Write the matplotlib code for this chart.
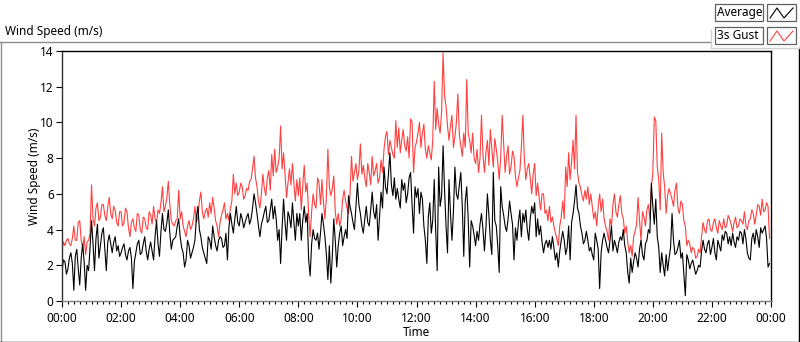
import matplotlib
matplotlib.use("agg")
import matplotlib.pyplot as plt
from matplotlib.lines import Line2D
from matplotlib.patches import Rectangle
from matplotlib.ticker import MultipleLocator
import numpy as np

plt.rcParams['font.family'] = ['Noto Sans', 'DejaVu Sans']

# readings every 3 minutes, 00:00 -> 24:00
step_min = 3

gust = [
    # 00-04
    2.9, 3.3, 3.1, 3.4, 3.5, 3.2, 3.1, 3.5, 4.2, 3.4, 3.4, 4.4, 4.5, 3.4, 3.0, 3.6, 2.6, 3.3, 3.4, 3.8,
    6.5, 4.6, 4.2, 5.2, 5.5, 4.5, 4.7, 5.4, 5.4, 4.8, 4.5, 5.3, 5.8, 4.9, 4.6, 5.3, 5.1, 4.4, 4.2, 5.0,
    5.0, 4.2, 4.4, 5.2, 5.0, 4.1, 3.6, 4.4, 4.6, 4.1, 3.9, 4.9, 4.8, 4.0, 3.8, 4.7, 4.6, 4.1, 4.0, 5.0,
    4.8, 4.3, 5.3, 4.6, 4.4, 5.1, 4.9, 5.5, 6.4, 5.0, 5.3, 5.8, 6.7, 5.4, 4.5, 4.3, 4.2, 4.5, 4.6, 6.2,
    # 04-08
    4.6, 5.0, 4.2, 3.9, 3.6, 4.2, 4.5, 4.0, 4.2, 4.6, 5.3, 4.4, 4.7, 5.6, 6.1, 5.0, 4.6, 5.0, 5.2, 4.7,
    5.5, 4.9, 5.8, 5.2, 4.5, 4.2, 3.6, 4.4, 4.8, 5.1, 5.5, 4.6, 4.9, 4.5, 5.2, 5.6, 7.1, 6.0, 6.6, 5.9,
    6.1, 6.6, 6.4, 5.7, 5.9, 6.3, 6.2, 6.7, 6.8, 7.4, 8.1, 6.9, 6.4, 5.6, 5.2, 6.0, 7.1, 6.3, 5.9, 6.9,
    7.3, 6.2, 8.2, 7.0, 8.5, 7.2, 7.5, 8.0, 9.8, 7.4, 8.3, 7.1, 5.8, 6.6, 7.4, 6.5, 7.7, 6.6, 5.6, 6.8,
    # 08-12
    5.9, 6.9, 5.1, 6.5, 7.6, 6.1, 6.6, 4.8, 3.6, 5.0, 6.0, 5.4, 5.2, 6.9, 6.6, 5.4, 6.8, 5.5, 4.6, 5.8,
    8.5, 6.4, 5.9, 6.3, 7.0, 5.0, 4.3, 4.9, 4.2, 4.6, 5.7, 6.2, 5.6, 5.2, 4.9, 6.0, 8.1, 6.7, 7.2, 7.7,
    6.8, 7.3, 8.8, 7.1, 7.6, 6.9, 6.4, 7.7, 7.2, 6.5, 8.1, 7.0, 7.3, 7.7, 6.6, 6.9, 7.9, 7.2, 8.5, 9.2,
    9.5, 8.2, 9.0, 8.6, 8.2, 8.0, 10.1, 8.6, 9.7, 8.3, 9.0, 9.6, 8.7, 8.4, 9.2, 8.0, 10.2, 10.0, 7.2, 8.6,
    # 12-16
    8.9, 9.4, 10.0, 8.6, 9.4, 9.9, 8.5, 8.0, 8.7, 8.3, 7.9, 9.0, 12.3, 9.6, 10.8, 9.9, 9.4, 10.6, 13.9, 11.5,
    10.9, 9.8, 9.0, 9.8, 10.4, 8.6, 9.2, 10.0, 11.6, 9.3, 8.7, 8.1, 9.4, 8.6, 12.4, 9.4, 9.0, 8.3, 9.4, 8.0,
    7.7, 8.5, 7.2, 8.0, 10.4, 8.2, 7.2, 8.3, 9.0, 7.6, 9.6, 8.5, 7.5, 9.1, 8.5, 7.8, 6.8, 8.0, 10.4, 8.8,
    7.2, 8.1, 8.7, 7.1, 7.5, 8.4, 8.1, 7.0, 6.4, 6.9, 7.3, 8.6, 10.4, 8.0, 6.8, 7.4, 7.7, 6.9, 6.0, 7.1,
    # 16-20
    7.7, 5.9, 6.6, 5.8, 5.1, 6.0, 6.0, 4.9, 5.1, 4.5, 5.3, 4.4, 4.7, 4.2, 3.8, 3.5, 3.1, 4.2, 4.7, 5.6,
    4.6, 7.5, 6.4, 8.3, 6.8, 7.8, 9.0, 7.4, 10.4, 7.2, 6.6, 6.4, 5.9, 5.6, 6.2, 5.7, 6.4, 5.4, 6.0, 5.3,
    4.6, 5.0, 4.2, 5.3, 6.0, 5.0, 5.7, 4.6, 4.2, 3.9, 3.4, 4.6, 4.2, 5.4, 6.0, 5.0, 4.7, 5.4, 5.9, 4.9,
    4.6, 3.8, 4.2, 3.3, 2.7, 3.1, 2.5, 3.6, 3.9, 4.3, 5.8, 4.5, 3.4, 5.0, 4.7, 4.2, 5.1, 5.4, 4.6, 6.4,
    # 20-24
    7.2, 10.3, 10.1, 7.5, 6.8, 5.1, 9.4, 7.2, 6.4, 4.9, 5.9, 6.3, 6.0, 5.7, 5.3, 6.2, 6.6, 5.2, 4.9, 5.6,
    5.4, 4.5, 4.2, 3.1, 3.4, 3.2, 2.7, 3.0, 2.9, 2.4, 2.5, 2.9, 2.7, 3.6, 4.4, 4.0, 3.8, 4.5, 4.6, 4.0,
    3.9, 4.4, 4.6, 4.1, 3.8, 4.5, 4.2, 4.0, 4.6, 4.1, 4.2, 4.8, 4.6, 4.3, 3.9, 4.4, 4.7, 4.1, 4.2, 4.6,
    4.5, 4.3, 5.0, 4.2, 4.0, 4.5, 4.6, 5.1, 4.9, 4.3, 4.8, 5.4, 5.3, 4.8, 5.7, 5.0, 5.1, 5.5, 5.3, 3.5,
]

average = [
    # 00-04
    1.7, 2.3, 2.2, 1.5, 1.8, 2.4, 2.7, 2.1, 0.6, 2.5, 2.9, 1.8, 0.9, 2.4, 3.2, 2.2, 0.6, 2.0, 1.7, 3.0,
    4.5, 3.2, 1.7, 3.5, 4.3, 2.4, 3.1, 3.8, 4.1, 2.9, 1.7, 3.3, 3.7, 3.2, 2.7, 3.3, 3.6, 2.8, 3.1, 2.5,
    2.7, 3.0, 3.2, 2.6, 2.3, 2.8, 3.0, 2.4, 0.7, 2.2, 2.7, 3.2, 3.4, 2.6, 2.7, 3.2, 3.6, 2.8, 2.3, 2.9,
    3.3, 2.8, 2.3, 3.6, 4.5, 3.2, 2.5, 3.9, 4.9, 4.0, 3.9, 4.4, 5.1, 3.8, 2.9, 3.4, 3.5, 3.6, 4.2, 4.6,
    # 04-08
    3.6, 3.0, 2.7, 1.9, 2.3, 3.4, 3.1, 2.4, 2.7, 3.0, 3.4, 4.7, 5.3, 4.0, 3.6, 3.0, 2.7, 2.4, 2.1, 3.6,
    3.4, 2.9, 4.2, 3.6, 3.1, 2.8, 3.4, 3.6, 3.5, 3.0, 3.1, 3.8, 2.3, 4.1, 4.9, 4.3, 3.8, 4.6, 5.3, 4.4,
    4.2, 4.9, 4.6, 4.1, 4.4, 4.7, 4.9, 4.3, 4.6, 5.2, 6.0, 5.5, 4.9, 4.2, 3.6, 4.3, 4.6, 5.0, 5.3, 4.4,
    4.5, 5.1, 5.7, 4.6, 5.3, 4.6, 3.4, 4.0, 2.1, 4.1, 5.7, 4.4, 3.4, 5.0, 4.7, 4.1, 5.5, 4.4, 3.4, 4.9,
    # 08-12
    4.2, 4.9, 3.4, 4.5, 5.3, 4.4, 4.9, 2.3, 1.4, 3.2, 4.0, 3.5, 3.4, 3.8, 2.9, 3.8, 4.9, 4.3, 3.6, 2.6,
    1.2, 3.1, 1.0, 2.5, 4.6, 3.4, 1.9, 3.1, 3.8, 4.2, 3.1, 3.6, 4.0, 3.5, 5.9, 5.3, 4.9, 4.4, 4.0, 5.3,
    6.6, 5.4, 4.9, 4.2, 3.8, 4.6, 5.3, 4.4, 4.2, 5.1, 6.1, 5.0, 4.6, 5.4, 3.4, 4.8, 6.1, 5.2, 7.5, 6.4,
    6.0, 7.1, 8.3, 6.5, 5.9, 6.9, 5.7, 6.3, 5.7, 5.2, 6.8, 6.2, 6.6, 5.5, 6.0, 6.9, 7.2, 5.4, 3.8, 6.4,
    # 12-16
    5.8, 6.3, 4.9, 6.1, 5.7, 4.2, 3.4, 2.1, 4.7, 5.5, 3.8, 4.5, 6.8, 3.9, 1.7, 7.5, 5.3, 5.9, 8.7, 6.2,
    4.2, 2.7, 6.8, 4.9, 3.4, 5.0, 7.5, 6.0, 5.7, 6.5, 7.2, 5.3, 2.5, 5.6, 6.4, 4.6, 1.9, 4.5, 4.2, 3.7,
    3.1, 3.9, 3.4, 4.3, 4.9, 4.0, 2.8, 4.1, 6.0, 4.8, 3.4, 2.6, 7.2, 4.5, 4.2, 3.1, 1.6, 6.4, 5.3, 4.8,
    4.2, 3.9, 4.6, 5.6, 4.9, 4.3, 2.3, 4.1, 3.4, 4.4, 5.1, 3.6, 4.9, 4.4, 5.1, 4.0, 3.4, 4.6, 5.3, 4.9,
    # 16-20
    5.5, 3.6, 4.6, 3.7, 4.2, 3.3, 2.7, 3.2, 3.4, 3.0, 3.4, 2.9, 3.6, 3.0, 2.3, 2.7, 1.9, 2.8, 3.4, 3.9,
    3.4, 2.6, 3.0, 4.2, 2.3, 4.4, 4.9, 5.6, 6.5, 5.2, 4.9, 4.2, 3.8, 3.2, 3.4, 3.9, 3.4, 2.8, 3.0, 2.6,
    2.3, 3.8, 3.4, 2.9, 0.7, 2.7, 3.4, 3.8, 3.4, 3.0, 2.7, 3.4, 4.2, 2.8, 3.4, 3.1, 2.7, 3.3, 3.6, 3.4,
    4.0, 3.1, 2.7, 1.6, 1.0, 2.4, 1.6, 2.2, 2.7, 2.4, 1.9, 2.9, 3.4, 2.6, 2.3, 3.2, 3.4, 4.0, 3.8, 6.6,
    # 20-24
    5.3, 4.3, 5.7, 3.6, 3.0, 1.6, 2.7, 2.0, 1.4, 2.6, 1.7, 2.4, 3.0, 4.9, 3.4, 2.6, 2.7, 3.0, 3.4, 2.4,
    2.7, 1.5, 0.3, 2.6, 2.3, 1.8, 2.1, 2.3, 1.9, 1.5, 1.7, 2.0, 1.9, 2.8, 3.4, 2.9, 2.7, 3.2, 3.4, 2.6,
    3.0, 3.5, 2.7, 2.3, 3.4, 3.1, 2.8, 3.7, 3.4, 3.9, 3.8, 3.2, 3.6, 3.1, 3.8, 3.3, 3.0, 3.6, 3.4, 3.9,
    3.8, 3.2, 4.0, 3.5, 2.7, 2.4, 2.3, 3.5, 3.8, 3.2, 4.0, 3.6, 3.0, 4.1, 3.8, 4.0, 4.2, 3.5, 1.9, 2.1,
]

hour_ticks = list(range(0, 25, 2))
hour_labels = ["%02d:00" % (h % 24) for h in hour_ticks]

t_gust = np.arange(len(gust)) * step_min / 60.0
t_avg = np.arange(len(average)) * step_min / 60.0

W, H = 800, 342
fig = plt.figure(figsize=(W / 100, H / 100), dpi=100)
fig.patch.set_facecolor("white")

ax = fig.add_axes([62 / W, 1 - 301 / H, (771 - 62) / W, (301 - 51) / H])
ax.plot(t_gust, gust, color="#ff4040", lw=0.8)
ax.plot(t_avg, average, color="black", lw=0.8)

ax.set_xlim(0, 24)
ax.set_ylim(0, 14)
ax.set_xticks(hour_ticks)
ax.set_xticklabels(hour_labels)
ax.xaxis.set_minor_locator(MultipleLocator(0.2))
ax.yaxis.set_major_locator(MultipleLocator(2))
ax.tick_params(axis="both", which="major", labelsize=8.5, length=4, width=0.8, direction="out", pad=2)
ax.tick_params(axis="x", which="major", pad=4)
ax.tick_params(axis="x", which="minor", length=2.5, width=0.8)
for s in ax.spines.values():
    s.set_linewidth(1.0)
ax.spines["bottom"].set_color("#808080")
ax.spines["left"].set_color("#303030")
ax.set_xlabel("Time", fontsize=8.5, labelpad=1)
ax.set_ylabel("Wind Speed (m/s)", fontsize=8.5, labelpad=-1)

# window-like frame around the graph
def fline(x0, y0, x1, y1, c, lw=1.0):
    fig.add_artist(Line2D([x0 / W, x1 / W], [1 - y0 / H, 1 - y1 / H], color=c, lw=lw))

fline(0, 42, 710, 42, "#8c8c8c")
fline(0.5, 42, 0.5, 342, "#8c8c8c")
fline(0, 341.5, 800, 341.5, "black")
fline(799, 48, 799, 342, "black")
fline(711, 30, 711, 48, "#d0d0d0")
fline(711, 48, 800, 48, "#d0d0d0")

fig.text(5 / W, 1 - 32 / H, "Wind Speed (m/s)", fontsize=8.5, va="center", ha="left")

# legend
names = ["Average", "3s Gust"]
colors = ["black", "#ff4040"]
for i, (name, c) in enumerate(zip(names, colors)):
    y0 = 4 + i * 23
    fig.add_artist(Rectangle((715 / W, 1 - (y0 + 17) / H), 48 / W, 17 / H, transform=fig.transFigure,
                             facecolor="white", edgecolor="#606060", lw=0.9))
    fig.add_artist(Rectangle((767 / W, 1 - (y0 + 17) / H), 29 / W, 17 / H, transform=fig.transFigure,
                             facecolor="white", edgecolor="#606060", lw=0.9))
    fig.text(717 / W, 1 - (y0 + 8.5) / H, name, fontsize=8.5, va="center", ha="left")
    zx = [770, 777, 784, 793]
    zy = [y0 + 14, y0 + 4, y0 + 14, y0 + 4]
    fig.add_artist(Line2D([x / W for x in zx], [1 - y / H for y in zy], color=c, lw=0.8))

fig.savefig("out.png", dpi=100)
